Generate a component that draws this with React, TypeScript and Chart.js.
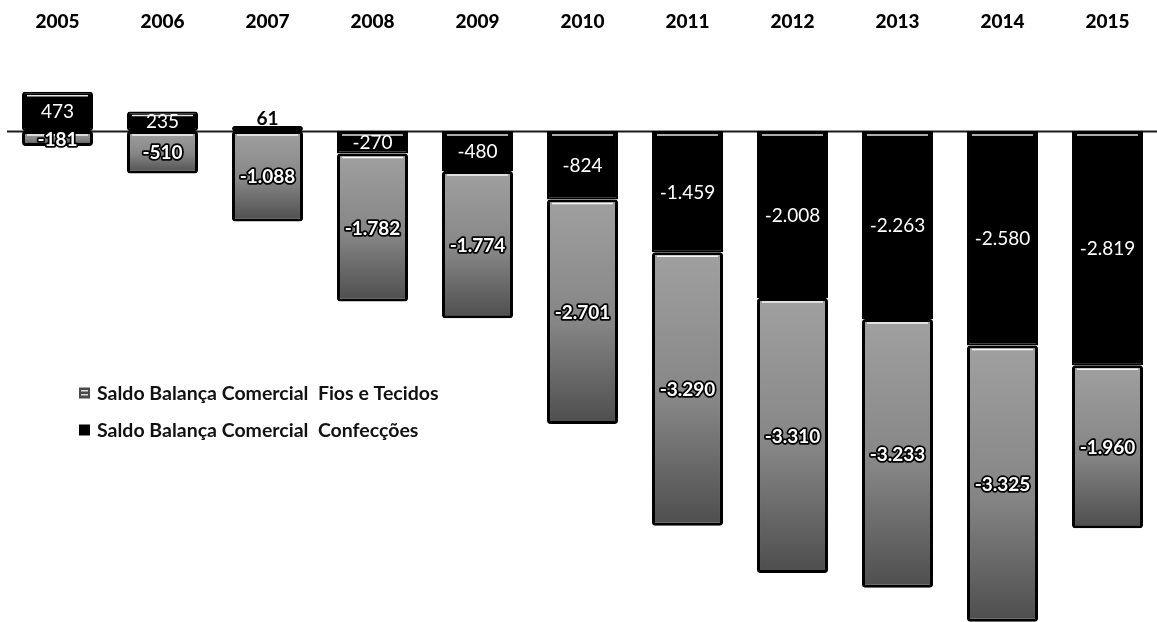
import React, { useEffect, useRef } from "react";
import { Chart, registerables } from "chart.js";

Chart.register(...registerables);

const years = ["2005", "2006", "2007", "2008", "2009", "2010", "2011", "2012", "2013", "2014", "2015"];
const confeccoes = [473, 235, 61, -270, -480, -824, -1459, -2008, -2263, -2580, -2819];
const fiosTecidos = [-181, -510, -1088, -1782, -1774, -2701, -3290, -3310, -3233, -3325, -1960];
const labelFios = "Saldo Balança Comercial  Fios e Tecidos";
const labelConf = "Saldo Balança Comercial  Confecções";

const FONT = "Lato, 'Open Sans', 'DejaVu Sans', sans-serif";

const fmt = (v: number) =>
  (v < 0 ? "-" : "") + Math.abs(v).toString().replace(/\B(?=(\d{3})+(?!\d))/g, ".");

const zeroLine = {
  id: "zeroLine",
  beforeDatasetsDraw(chart: any) {
    const { ctx, chartArea, scales } = chart;
    const y = Math.round(scales.y.getPixelForValue(0)) + 0.5;
    ctx.save();
    ctx.strokeStyle = "#1a1a1a";
    ctx.lineWidth = 2;
    ctx.beginPath();
    ctx.moveTo(chartArea.left + 2, y);
    ctx.lineTo(chart.width, y);
    ctx.stroke();
    ctx.restore();
  },
};

const barDecor = {
  id: "barDecor",
  afterDatasetsDraw(chart: any) {
    const { ctx } = chart;
    ctx.save();
    chart.data.datasets.forEach((_: any, di: number) => {
      const meta = chart.getDatasetMeta(di);
      meta.data.forEach((el: any) => {
        const { x, y, base, width } = el.getProps(["x", "y", "base", "width"], true);
        const top = Math.min(y, base);
        const h = Math.abs(y - base);
        if (h < 8) return;
        ctx.strokeStyle = "rgba(255,255,255,0.9)";
        ctx.lineWidth = 1.5;
        ctx.beginPath();
        ctx.moveTo(x - width / 2 + 5, top + 4);
        ctx.lineTo(x + width / 2 - 5, top + 4);
        ctx.stroke();
      });
    });
    chart.data.datasets.forEach((ds: any, di: number) => {
      const meta = chart.getDatasetMeta(di);
      meta.data.forEach((el: any, i: number) => {
        const v = ds.data[i] as number;
        const { x, y, base } = el.getProps(["x", "y", "base"], true);
        const h = Math.abs(y - base);
        const txt = fmt(v);
        ctx.textAlign = "center";
        if (di === 0) {
          ctx.font = `19px ${FONT}`;
          if (h < 14) {
            ctx.fillStyle = "#000";
            ctx.font = `bold 19px ${FONT}`;
            ctx.textBaseline = "bottom";
            ctx.fillText(txt, x, Math.min(y, base) + 2);
          } else {
            ctx.fillStyle = "#fff";
            ctx.textBaseline = "middle";
            ctx.fillText(txt, x, (y + base) / 2 + 1);
          }
        } else {
          ctx.font = `bold 19px ${FONT}`;
          ctx.textBaseline = "middle";
          ctx.lineJoin = "round";
          ctx.strokeStyle = "#000";
          ctx.lineWidth = 3.5;
          const cy = (y + base) / 2 + 1;
          ctx.strokeText(txt, x, cy);
          ctx.fillStyle = "#fff";
          ctx.fillText(txt, x, cy);
        }
      });
    });
    ctx.restore();
  },
};

const customLegend = {
  id: "customLegend",
  afterDraw(chart: any) {
    const { ctx } = chart;
    const items = [
      { label: labelFios, fill: "#4a4a4a", pattern: true },
      { label: labelConf, fill: "#000", pattern: false },
    ];
    const x0 = 79;
    const ys = [393, 430];
    ctx.save();
    items.forEach((it, k) => {
      const cy = ys[k];
      ctx.fillStyle = it.fill;
      ctx.fillRect(x0, cy - 5.5, 11, 11);
      if (it.pattern) {
        ctx.fillStyle = "#ddd";
        ctx.fillRect(x0 + 2, cy - 3, 7, 1.5);
        ctx.fillRect(x0 + 2, cy + 1, 7, 1.5);
      }
      ctx.fillStyle = "#111";
      ctx.font = `bold 19.5px ${FONT}`;
      ctx.textAlign = "left";
      ctx.textBaseline = "middle";
      ctx.fillText(it.label, x0 + 18, cy + 1);
    });
    ctx.restore();
  },
};

export default function App() {
  const ref = useRef<HTMLCanvasElement | null>(null);

  useEffect(() => {
    document.body.style.margin = "0";
    document.documentElement.style.overflow = "hidden";
    document.body.style.overflow = "hidden";
    const canvas = ref.current;
    if (!canvas) return;

    const grayFill = (c: any) => {
      const chart = c.chart;
      const { chartArea, scales } = chart;
      if (!chartArea || c.type !== "data" || !scales.y) return "#8a8a8a";
      const i = c.dataIndex;
      const base = confeccoes[i] < 0 ? confeccoes[i] : 0;
      const y0 = scales.y.getPixelForValue(base);
      const y1 = scales.y.getPixelForValue(base + fiosTecidos[i]);
      if (!isFinite(y0) || !isFinite(y1) || y0 === y1) return "#8a8a8a";
      const g = chart.ctx.createLinearGradient(0, y0, 0, y1);
      g.addColorStop(0, "#a0a0a0");
      g.addColorStop(0.55, "#858585");
      g.addColorStop(1, "#4e4e4e");
      return g;
    };

    const chart = new Chart(canvas, {
      type: "bar",
      data: {
        labels: years,
        datasets: [
          {
            label: labelConf,
            data: confeccoes,
            backgroundColor: "#000",
            borderColor: "#000",
            borderWidth: 2,
            borderRadius: 3,
            borderSkipped: false,
            stack: "s",
          },
          {
            label: labelFios,
            data: fiosTecidos,
            backgroundColor: grayFill,
            borderColor: "#000",
            borderWidth: 3,
            borderRadius: 3,
            borderSkipped: false,
            stack: "s",
          },
        ],
      },
      options: {
        responsive: false,
        animation: false,
        layout: { padding: { left: 5, right: 5, top: 0, bottom: 0 } },
        datasets: { bar: { barPercentage: 0.676, categoryPercentage: 1 } },
        plugins: {
          legend: { display: false },
          tooltip: { enabled: false },
        },
        scales: {
          x: {
            position: "top",
            stacked: true,
            grid: { display: false, drawTicks: false },
            border: { display: false },
            afterFit: (scale: any) => {
              scale.height = 37;
            },
            ticks: {
              color: "#000",
              font: { family: FONT, size: 19, weight: "900" },
              padding: 4,
              maxRotation: 0,
            },
          },
          y: {
            display: false,
            stacked: true,
            min: -5908,
            max: 1131,
          },
        },
      },
      plugins: [zeroLine, barDecor, customLegend],
    });

    return () => chart.destroy();
  }, []);

  return (
    <div style={{ position: "relative", width: 1165, height: 622 }}>
      <canvas ref={ref} width={1165} height={622} style={{ display: "block" }} />
    </div>
  );
}
